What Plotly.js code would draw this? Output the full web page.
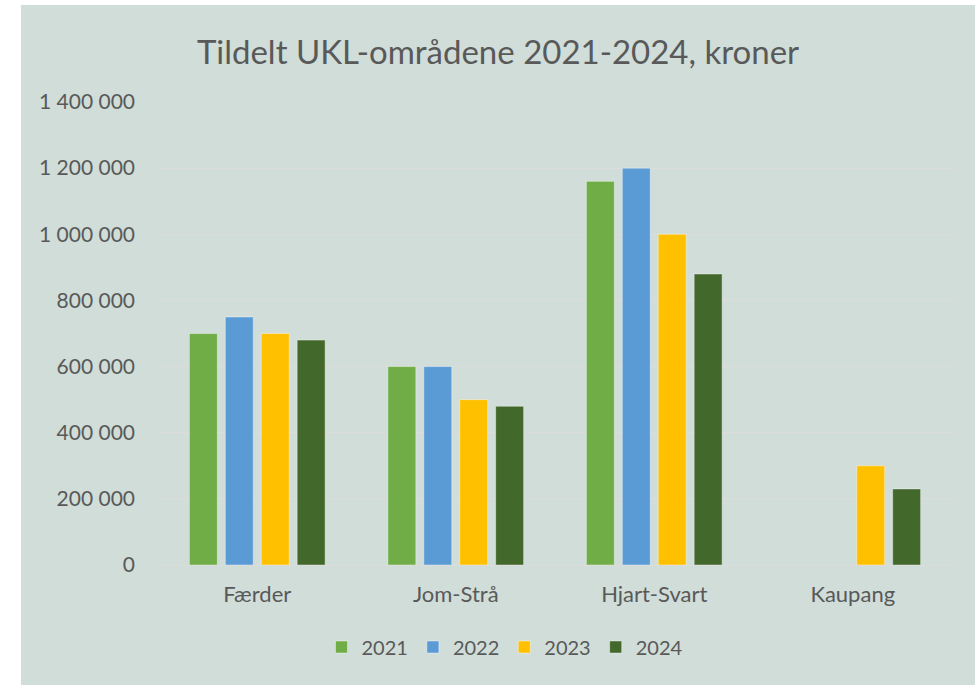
<!DOCTYPE html>
<html>
<head>
<meta charset="utf-8">
<script src="https://cdn.plot.ly/plotly-3.0.1.min.js"></script>
<style>
  html, body { margin: 0; padding: 0; background: #ffffff; }
  #chart { position: absolute; left: 21px; top: 5px; width: 954px; height: 680px; }
</style>
</head>
<body>
<div id="chart"></div>
<script>
const categories = ["Færder", "Jom-Strå", "Hjart-Svart", "Kaupang"];
const seriesNames = ["2021", "2022", "2023", "2024"];
const values2021 = [700000, 600000, 1160000, null];
const values2022 = [750000, 600000, 1200000, null];
const values2023 = [700000, 500000, 1000000, 300000];
const values2024 = [680000, 480000, 880000, 230000];
const tickValues = [0, 200000, 400000, 600000, 800000, 1000000, 1200000, 1400000];
const tickLabels = ["0", "200 000", "400 000", "600 000", "800 000", "1 000 000", "1 200 000", "1 400 000"];

const colors = ["#70ad47", "#5b9bd5", "#ffc000", "#43682b"];
const allValues = [values2021, values2022, values2023, values2024];
const FONT = "Lato, 'Open Sans', sans-serif";

const traces = allValues.map((vals, i) => ({
  type: "bar",
  name: seriesNames[i],
  x: categories,
  y: vals,
  marker: { color: colors[i], line: { color: "rgba(255,255,255,0.4)", width: 1 } },
  hoverinfo: "x+y+name"
}));

const layout = {
  width: 954,
  height: 680,
  paper_bgcolor: "#d0ddd8",
  plot_bgcolor: "#d0ddd8",
  margin: { l: 137, r: 23, t: 97, b: 120 },
  font: { family: FONT, color: "#595959", size: 20 },
  title: {
    text: "Tildelt UKL-områdene 2021-2024, kroner",
    font: { family: FONT, size: 33, color: "#595959" },
    x: 0.5, xanchor: "center",
    y: 1 - 47 / 680, yanchor: "middle"
  },
  barmode: "group",
  bargap: 0.276,
  bargroupgap: 0.222,
  xaxis: {
    type: "category",
    showgrid: false,
    showline: false,
    zeroline: false,
    ticks: "",
    ticklabelstandoff: 14,
    tickfont: { family: FONT, size: 22, color: "#595959" }
  },
  yaxis: {
    range: [0, 1400000],
    tickvals: tickValues,
    ticktext: tickLabels,
    showgrid: true,
    gridcolor: "#dcdcdc",
    gridwidth: 1,
    zeroline: true,
    zerolinecolor: "#dcdcdc",
    zerolinewidth: 1,
    showline: false,
    ticks: "",
    ticklabelstandoff: 22,
    tickfont: { family: FONT, size: 21, color: "#595959" }
  },
  showlegend: true,
  legend: {
    orientation: "h",
    x: 0.437, xanchor: "center",
    y: -82 / 463, yanchor: "middle",
    font: { family: FONT, size: 20, color: "#595959" },
    bgcolor: "rgba(0,0,0,0)",
    itemwidth: 30,
    traceorder: "normal"
  }
};

Plotly.newPlot("chart", traces, layout, { displayModeBar: false, responsive: false });
</script>
</body>
</html>
